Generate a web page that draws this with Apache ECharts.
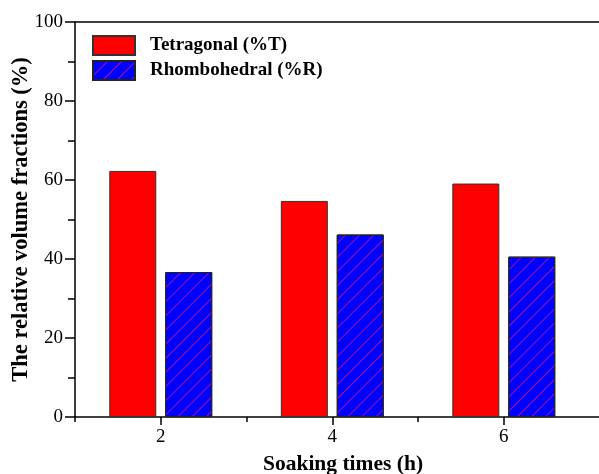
<!DOCTYPE html>
<html><head><meta charset="utf-8">
<script src="https://cdn.jsdelivr.net/npm/echarts@6/dist/echarts.min.js"></script>
<style>html,body{margin:0;padding:0;background:#fff}#c{width:599px;height:474px}</style>
</head><body><div id="c"></div>
<script>
const soakingTimes = [2, 4, 6];
const minorTimes = [1, 3, 5];
const tetragonal = [62.3, 54.7, 59.1];
const rhombohedral = [36.7, 46.2, 40.6];
const seriesNames = ['Tetragonal (%T)', 'Rhombohedral (%R)'];
const yMin = 0, yMax = 100, yStep = 20;

const FONT = 'Liberation Serif, Times New Roman, serif';
const chart = echarts.init(document.getElementById('c'), null, {renderer: 'canvas'});
const lineStyle = {color: '#000', width: 1.5};
const pairs = (vals) => soakingTimes.map((t, i) => [t, vals[i]]);

chart.setOption({
  animation: false,
  backgroundColor: '#fff',
  grid: {left: 75, top: 22, height: 395, width: 536, containLabel: false, outerBoundsMode: 'none'},
  legend: {
    orient: 'vertical', left: 92, top: 35, padding: 0,
    itemWidth: 42, itemHeight: 19, itemGap: 4, icon: 'rect',
    data: seriesNames,
    textStyle: {fontFamily: FONT, fontWeight: 'bold', fontSize: 19, color: '#000', padding: [0, 0, 0, 10]}
  },
  xAxis: [
    {
      type: 'value', min: 1, max: 7.25, position: 'bottom',
      axisLine: {show: true, onZero: false, lineStyle: lineStyle},
      axisTick: {show: true, customValues: soakingTimes, length: 8, lineStyle: lineStyle},
      axisLabel: {customValues: soakingTimes, fontFamily: FONT, fontSize: 19, color: '#000', margin: 11},
      splitLine: {show: false},
      name: 'Soaking times (h)', nameLocation: 'middle', nameGap: 36, nameMoveOverlap: false,
      nameTextStyle: {fontFamily: FONT, fontWeight: 'bold', fontSize: 21.5, color: '#000'}
    },
    {
      type: 'value', min: 1, max: 7.25, position: 'bottom',
      axisLine: {show: false},
      axisTick: {show: true, customValues: minorTimes, length: 5, lineStyle: lineStyle},
      axisLabel: {show: false},
      splitLine: {show: false}
    },
    {
      type: 'value', min: 1, max: 7.25, position: 'top',
      axisLine: {show: true, onZero: false, lineStyle: lineStyle},
      axisTick: {show: false}, axisLabel: {show: false}, splitLine: {show: false}
    }
  ],
  yAxis: {
    type: 'value', min: yMin, max: yMax, interval: yStep,
    axisLine: {show: true, onZero: false, lineStyle: lineStyle},
    axisTick: {show: true, length: 10, lineStyle: lineStyle},
    minorTick: {show: true, splitNumber: 2, length: 7, lineStyle: lineStyle},
    axisLabel: {fontFamily: FONT, fontSize: 19, color: '#000', margin: 12},
    splitLine: {show: false},
    name: 'The relative volume fractions (%)', nameLocation: 'middle', nameGap: 42, nameMoveOverlap: false,
    nameTextStyle: {fontFamily: FONT, fontWeight: 'bold', fontSize: 22.5, color: '#000'}
  },
  series: [
    {
      name: seriesNames[0], type: 'bar', xAxisIndex: 0,
      data: pairs(tetragonal), barWidth: 47, barGap: '19%',
      itemStyle: {color: '#ff0000', borderColor: '#333', borderWidth: 1}
    },
    {
      name: seriesNames[1], type: 'bar', xAxisIndex: 0,
      data: pairs(rhombohedral), barWidth: 47, barGap: '19%',
      itemStyle: {
        color: '#0000ff', borderColor: '#222', borderWidth: 1,
        decal: {symbol: 'rect', symbolSize: 1, color: 'rgba(220,30,120,0.7)', dashArrayX: [1, 0], dashArrayY: [1, 9], rotation: -Math.PI / 4}
      }
    }
  ]
});
</script></body></html>
